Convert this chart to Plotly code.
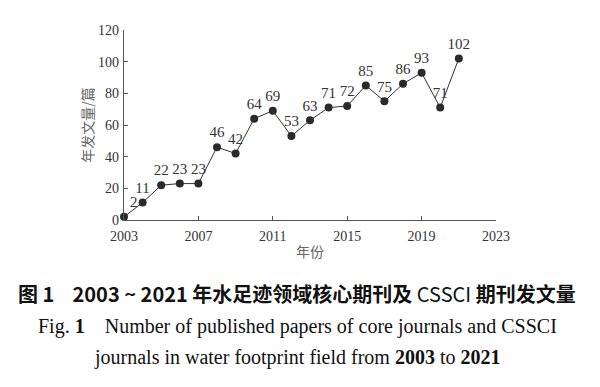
import plotly.graph_objects as go

years = list(range(2003, 2022))
counts = [2, 11, 22, 23, 23, 46, 42, 64, 69, 53, 63, 71, 72, 85, 75, 86, 93, 71, 102]
x_ticks = [2003, 2007, 2011, 2015, 2019, 2023]
y_ticks = [0, 20, 40, 60, 80, 100, 120]

positions = ["top right"] + ["top center"] * 18

# page body has an 8px default margin; size the figure to fit inside it
W, H = 584, 371
L, R, T, B = 116, 96, 22, 159
ph = H - T - B
pw = W - L - R

def py2paper(py):
    # py: target pixel y in the 600x387 window
    return (H - B - (py - 8)) / ph

def px2paper(px):
    return (px - 8 - L) / pw

fig = go.Figure()
fig.add_trace(go.Scatter(
    x=years, y=counts, mode="lines+markers+text",
    text=[str(v) for v in counts], textposition=positions,
    textfont=dict(family="Liberation Serif", size=15, color="#333333"),
    line=dict(color="#333333", width=1),
    marker=dict(color="#2a2a2a", size=8),
    cliponaxis=False, showlegend=False,
))

axis_common = dict(
    showline=True, linecolor="#555555", linewidth=1.2,
    ticks="inside", ticklen=4, tickcolor="#555555",
    showgrid=False, zeroline=False, automargin=False,
    tickfont=dict(family="Liberation Serif", size=14, color="#333333"),
)
fig.update_xaxes(range=[2003, 2023], tickvals=x_ticks, **axis_common, ticklabelstandoff=3,
                 title=dict(text="年份", font=dict(family="Noto Sans CJK SC", size=14, color="#666666"), standoff=4))
fig.update_yaxes(range=[0, 120], tickvals=y_ticks, **axis_common, ticklabelstandoff=1,
                 title=dict(text="年发文量/篇", font=dict(family="Noto Sans CJK SC", size=14, color="#666666"), standoff=1))

cx = px2paper(297)
fig.add_annotation(x=cx, y=py2paper(293), xref="paper", yref="paper", showarrow=False,
                   xanchor="center", yanchor="middle",
                   text="<b>图 1    2003 ~ 2021 年水足迹领域核心期刊及</b> CSSCI <b>期刊发文量</b>",
                   font=dict(family="Noto Sans CJK SC", size=20, color="#111111"))
fig.add_annotation(x=cx, y=py2paper(326), xref="paper", yref="paper", showarrow=False,
                   xanchor="center", yanchor="middle",
                   text="Fig. <b>1</b>    Number of published papers of core journals and CSSCI",
                   font=dict(family="Liberation Serif", size=20, color="#111111"))
fig.add_annotation(x=cx, y=py2paper(357), xref="paper", yref="paper", showarrow=False,
                   xanchor="center", yanchor="middle",
                   text="journals in water footprint field from <b>2003</b> to <b>2021</b>",
                   font=dict(family="Liberation Serif", size=20, color="#111111"))

fig.update_layout(
    width=W, height=H,
    margin=dict(l=L, r=R, t=T, b=B, autoexpand=False),
    plot_bgcolor="white", paper_bgcolor="white",
)
fig.write_html("out.html")
